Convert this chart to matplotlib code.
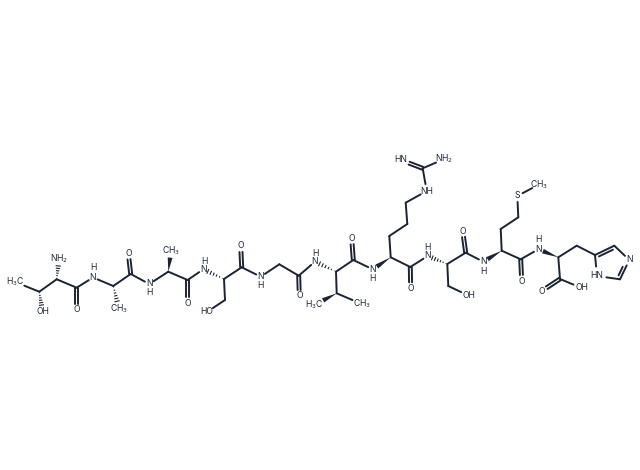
import matplotlib
matplotlib.use("Agg")
import matplotlib.pyplot as plt
import numpy as np

# atom positions, in image pixels
carbons = {
    "cb1": (39.3, 291.7), "ca1": (56.7, 279.3), "c1": (76.7, 287.7),
    "ca2": (113.3, 286), "c2": (130.7, 274), "ca3": (168.3, 271.7), "c3": (187.7, 280),
    "ca4": (224, 279), "cb4": (225, 300), "c4": (241.7, 267.3),
    "ca5": (279.3, 264.3), "c5": (298.7, 275.7), "ca6": (336, 271.7), "cb6": (336.7, 293.3),
    "c6": (353.3, 260), "ca7": (390.7, 257.3), "cb7": (389.3, 236), "cg7": (407.3, 224),
    "cd7": (405.7, 202.7), "cz7": (422.7, 168.3), "c7": (410.3, 267),
    "ca8": (447.3, 264), "cb8": (448.3, 286), "c8": (465.7, 252.7),
    "ca9": (501.7, 250.7), "cb9": (500.7, 229), "cg9": (518.3, 217.3), "c9": (520.7, 259.3),
    "ca10": (558.3, 257.3), "c10": (560, 279), "cb10": (576.7, 245.7),
    "r1": (595, 255), "r2": (614.3, 245.7), "r4": (620, 279.3),
}
hetero = {
    "me1": ("H$_3$C", 15, 282, 10), "oh1": ("OH", 42.5, 312, 7), "nh2": ("NH$_2$", 59, 259, 7),
    "o1": ("O", 76.7, 310, 6), "n2": ("N", 93, 277.5, 5), "me2": ("CH$_3$", 119, 309, 8),
    "o2": ("O", 128.3, 253.3, 6), "n3": ("N", 149.3, 284, 5), "me3": ("CH$_3$", 171, 250.7, 7),
    "o3": ("O", 187.7, 303, 6), "n4": ("N", 203.3, 269.3, 5), "oh4": ("HO", 207, 312, 7),
    "o4": ("O", 240.7, 246, 6), "n5": ("N", 260.7, 276.7, 5), "o5": ("O", 299.3, 296, 6),
    "n6": ("N", 315, 261.7, 5), "me6a": ("H$_3$C", 314.3, 305, 10), "me6b": ("CH$_3$", 361.7, 304, 10),
    "o6": ("O", 351.7, 238.3, 6), "n7": ("N", 372.7, 269.3, 5), "o7": ("O", 410.7, 288.3, 6),
    "ne7": ("NH", 426.7, 191, 7), "n7b": ("NH$_2$", 444.3, 159, 9), "n7c": ("HN", 400.7, 160, 9),
    "n8": ("N", 427.7, 256, 5), "oh8": ("OH", 469.3, 296, 9), "o8": ("O", 462.7, 231, 6),
    "n9": ("N", 483.3, 261.7, 5), "s9": ("S", 517.3, 196, 6), "me9": ("CH$_3$", 539.3, 184.3, 8),
    "o9": ("O", 521.7, 281, 6), "n10": ("N", 538.3, 249.3, 5), "o10": ("O", 541.7, 291, 6),
    "oh10": ("OH", 581.7, 288, 9), "rn3": ("N", 629.3, 260, 6), "rn5": ("HN", 597, 276, 9.5),
}
nh_hydrogens = [
    (93, 268), (149.3, 292.5), (204.3, 261), (260.7, 285.3), (315.7, 254), (372.7, 278.3),
    (427.7, 247.3), (483.3, 271), (538.3, 239.3),
]

single = [
    ("me1", "cb1"), ("cb1", "ca1"), ("ca1", "c1"), ("c1", "n2"), ("n2", "ca2"), ("ca2", "c2"),
    ("c2", "n3"), ("n3", "ca3"), ("ca3", "c3"), ("c3", "n4"), ("ca4", "cb4"), ("cb4", "oh4"),
    ("ca4", "c4"), ("c4", "n5"), ("n5", "ca5"), ("ca5", "c5"), ("c5", "n6"), ("ca6", "cb6"),
    ("cb6", "me6b"), ("ca6", "c6"), ("c6", "n7"), ("ca7", "cb7"), ("cb7", "cg7"), ("cg7", "cd7"),
    ("cd7", "ne7"), ("ne7", "cz7"), ("cz7", "n7b"), ("ca7", "c7"), ("c7", "n8"), ("ca8", "cb8"),
    ("cb8", "oh8"), ("ca8", "c8"), ("c8", "n9"), ("ca9", "cb9"), ("cb9", "cg9"), ("cg9", "s9"),
    ("s9", "me9"), ("ca9", "c9"), ("c9", "n10"), ("ca10", "c10"), ("c10", "oh10"),
    ("ca10", "cb10"), ("cb10", "r1"), ("r1", "rn5"), ("rn5", "r4"), ("r2", "rn3"),
]
double = [
    ("c1", "o1"), ("c2", "o2"), ("c3", "o3"), ("c4", "o4"), ("c5", "o5"), ("c6", "o6"),
    ("c7", "o7"), ("c8", "o8"), ("c9", "o9"), ("c10", "o10"), ("cz7", "n7c"),
]
ring_double = [("r1", "r2"), ("rn3", "r4")]
wedge = [("ca3", "me3"), ("cb6", "me6a"), ("ca7", "n7"), ("ca9", "n9"), ("ca10", "n10")]
hashed = [("cb1", "oh1"), ("ca1", "nh2"), ("ca2", "me2"), ("ca4", "n4"), ("ca6", "n6"), ("ca8", "n8")]

ink = "#1c2433"
lw = 1.4
label_size = 6.2


def pos(name):
    if name in carbons:
        return np.array(carbons[name], dtype=float)
    return np.array(hetero[name][1:3], dtype=float)


def ends(a, b):
    p, q = pos(a), pos(b)
    d = (q - p) / np.linalg.norm(q - p)
    if a in hetero:
        p = p + d * hetero[a][3]
    if b in hetero:
        q = q - d * hetero[b][3]
    return p, q, d


fig = plt.figure(figsize=(6.4, 4.7), dpi=100)
ax = fig.add_axes([0, 0, 1, 1])
ax.set_xlim(0, 640)
ax.set_ylim(470, 0)
ax.axis("off")

for a, b in single:
    p, q, d = ends(a, b)
    ax.plot([p[0], q[0]], [p[1], q[1]], color=ink, lw=lw, solid_capstyle="round")

for a, b in double:
    p, q, d = ends(a, b)
    n = np.array([-d[1], d[0]]) * 1.5
    for s in (-1, 1):
        ax.plot([p[0] + s * n[0], q[0] + s * n[0]], [p[1] + s * n[1], q[1] + s * n[1]],
                color=ink, lw=lw, solid_capstyle="round")

# aromatic doubles: main bond plus a shorter inner line towards the ring centre
centre = np.mean([pos(k) for k in ("r1", "r2", "rn3", "r4", "rn5")], axis=0)
for a, b in ring_double:
    p, q, d = ends(a, b)
    ax.plot([p[0], q[0]], [p[1], q[1]], color=ink, lw=lw, solid_capstyle="round")
    n = np.array([-d[1], d[0]])
    if np.dot(n, centre - p) < 0:
        n = -n
    p2, q2 = p + n * 3 + d * 3, q + n * 3 - d * 3
    ax.plot([p2[0], q2[0]], [p2[1], q2[1]], color=ink, lw=lw, solid_capstyle="round")

for a, b in wedge:
    p, q, d = ends(a, b)
    n = np.array([-d[1], d[0]]) * 2.4
    ax.fill([p[0], q[0] + n[0], q[0] - n[0]], [p[1], q[1] + n[1], q[1] - n[1]], color=ink, lw=0)

for a, b in hashed:
    p, q, d = ends(a, b)
    n = np.array([-d[1], d[0]])
    for t in np.linspace(0.1, 1, 6):
        c = p + (q - p) * t
        w = 2.6 * t
        ax.plot([c[0] - n[0] * w, c[0] + n[0] * w], [c[1] - n[1] * w, c[1] + n[1] * w],
                color=ink, lw=0.8, solid_capstyle="butt")

for s, x, y, gap in hetero.values():
    ax.text(x, y, s, ha="center", va="center", fontsize=label_size, color=ink, family="Inter")
for x, y in nh_hydrogens:
    ax.text(x, y, "H", ha="center", va="center", fontsize=label_size, color=ink, family="Inter")

fig.savefig("out.png", dpi=100)
